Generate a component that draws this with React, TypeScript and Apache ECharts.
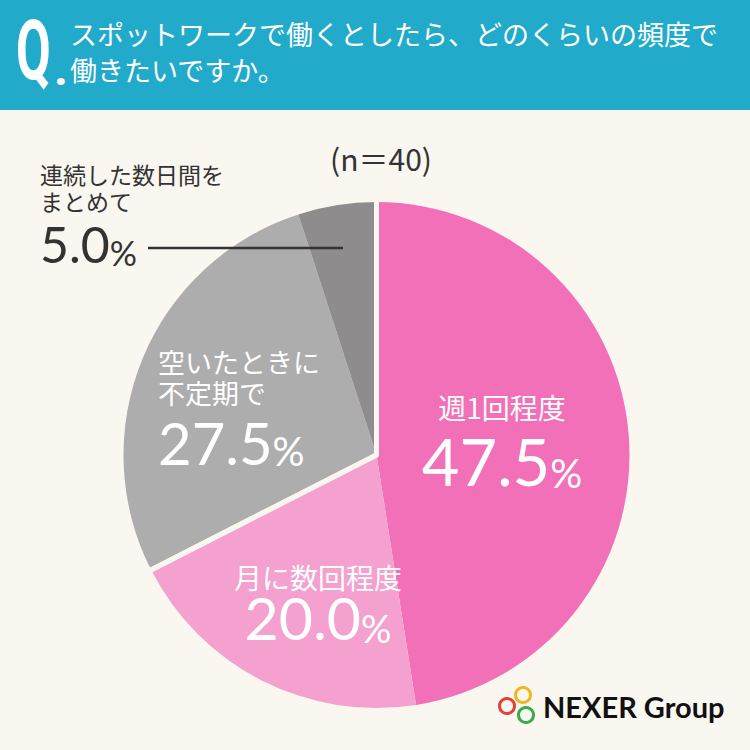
import React, { useEffect, useRef } from 'react';
import * as echarts from 'echarts';

// ---- data ----
const categories = ['週1回程度', '月に数回程度', '空いたときに\n不定期で', '連続した数日間を\nまとめて'];
const values = [47.5, 20.0, 27.5, 5.0];
const groupOf = [0, 0, 1, 1]; // pink group / gray group
const sampleLabel = '(n＝40)';
const titleLines = ['スポットワークで働くとしたら、どのくらいの頻度で', '働きたいですか。'];
const brandName = 'NEXER Group';

// ---- styles ----
const BG = '#FAF7F0';
const sliceColors = ['#F170B8', '#F4A1CF', '#ADADAD', '#8E8C8D'];
const JP = '"Noto Sans CJK JP", "Noto Sans", sans-serif';
const NUM = 'Lato, "Noto Sans", sans-serif';

const labelStyles = [
  { x: 502, y: 440, align: 'center', vAlign: 'middle', color: '#fff', n: [28, 40], v: [65, 66], p: [40] },
  { x: 318, y: 602, align: 'center', vAlign: 'middle', color: '#fff', n: [28, 40], v: [59, 50], p: [38] },
  { x: 158, y: 346, align: 'left', vAlign: 'top', color: '#fff', n: [27, 31], v: [58, 63], p: [40] },
  { x: 40, y: 160, align: 'left', vAlign: 'top', color: '#333', n: [23, 27], v: [50, 55], p: [34] },
];
const leaderPoints = [[343, 248], [148, 248], [148, 248]];

const CENTER = [376.5, 455];
const RADIUS = 253;

export default function App() {
  const ref = useRef<HTMLDivElement>(null);
  useEffect(() => {
    document.body.style.margin = '0';
    const chart = echarts.init(ref.current!, null, { renderer: 'svg' });

    const groupValues = [0, 1].map((g) =>
      values.filter((_, i) => groupOf[i] === g).reduce((a, b) => a + b, 0)
    );

    const labelData = values.map((v, i) => {
      const s = labelStyles[i];
      const [nf, nl] = s.n;
      const [vf, vl] = s.v;
      const pf = s.p[0];
      const pl = vl + 0.7 * (pf - vf);
      const nameLines = categories[i].split('\n').map((t) => `{n|${t}}`).join('\n');
      return {
        value: v,
        name: categories[i],
        label: {
          position: i === 3 ? 'outside' : 'inside',
          formatter: `${nameLines}\n{v|${v.toFixed(1)}}{p|%}`,
          rich: {
            n: { fontSize: nf, lineHeight: nl, fontFamily: JP, color: s.color },
            v: { fontSize: vf, lineHeight: vl, fontFamily: NUM, color: s.color, verticalAlign: 'bottom' },
            p: { fontSize: pf, lineHeight: pl, fontFamily: NUM, color: s.color, verticalAlign: 'bottom' },
          },
        },
        labelLine: i === 3
          ? { show: true, lineStyle: { color: '#333', width: 2.5 } }
          : { show: false },
      };
    });

    const option: any = {
      animation: false,
      backgroundColor: BG,
      graphic: [
        { type: 'rect', shape: { x: 0, y: 0, width: 750, height: 110 }, style: { fill: '#22AACB' } },
        {
          type: 'text', x: 16, y: 51, scaleX: 0.6,
          style: { text: 'Q', fill: '#fff', font: 'bold 84px Roboto, sans-serif', textVerticalAlign: 'middle' },
        },
        {
          type: 'text', x: 54, y: 92,
          style: { text: '.', fill: '#fff', font: 'bold 48px Roboto, sans-serif', textVerticalAlign: 'bottom' },
        },
        {
          type: 'text', x: 70, y: 33,
          style: { text: titleLines[0], fill: '#fff', fontSize: 27, fontFamily: JP, textVerticalAlign: 'middle' },
        },
        {
          type: 'text', x: 70, y: 69,
          style: { text: titleLines[1], fill: '#fff', fontSize: 27, fontFamily: JP, textVerticalAlign: 'middle' },
        },
        {
          type: 'text', x: 381, y: 158,
          style: { text: sampleLabel, fill: '#333', fontSize: 30, fontFamily: JP, textAlign: 'center', textVerticalAlign: 'middle' },
        },
        { type: 'circle', shape: { cx: 523, cy: 695, r: 7.5 }, style: { fill: 'none', stroke: '#F5B51E', lineWidth: 3 } },
        { type: 'circle', shape: { cx: 507, cy: 706, r: 7.5 }, style: { fill: 'none', stroke: '#E5403A', lineWidth: 3 } },
        { type: 'circle', shape: { cx: 526, cy: 715, r: 7.5 }, style: { fill: 'none', stroke: '#3AAA4B', lineWidth: 3 } },
        {
          type: 'text', x: 543, y: 706,
          style: { text: brandName, fill: '#111', font: 'bold 29px Lato, sans-serif', textVerticalAlign: 'middle' },
        },
      ],
      series: [
        {
          type: 'pie',
          z: 2,
          center: CENTER,
          radius: RADIUS,
          startAngle: 90,
          clockwise: true,
          silent: true,
          label: { show: false },
          labelLine: { show: false },
          data: values.map((v, i) => ({ value: v, name: categories[i], itemStyle: { color: sliceColors[i] } })),
        },
        {
          type: 'pie',
          z: 3,
          center: CENTER,
          radius: RADIUS + 10,
          startAngle: 90,
          clockwise: true,
          silent: true,
          label: { show: false },
          labelLine: { show: false },
          itemStyle: { color: 'rgba(0,0,0,0)', borderColor: BG, borderWidth: 5 },
          data: groupValues.map((v) => ({ value: v })),
        },
        {
          type: 'pie',
          z: 4,
          center: CENTER,
          radius: RADIUS,
          startAngle: 90,
          clockwise: true,
          silent: true,
          avoidLabelOverlap: false,
          itemStyle: { color: 'rgba(0,0,0,0)', borderWidth: 0 },
          label: { show: true },
          labelLine: { show: false },
          labelLayout: (params: any) => {
            const s = labelStyles[params.dataIndex];
            const out: any = { x: s.x, y: s.y, align: s.align, verticalAlign: s.vAlign };
            if (params.dataIndex === 3) out.labelLinePoints = leaderPoints;
            return out;
          },
          data: labelData,
        },
      ],
    };
    chart.setOption(option);
    return () => chart.dispose();
  }, []);
  return <div ref={ref} style={{ width: 750, height: 750 }} />;
}
